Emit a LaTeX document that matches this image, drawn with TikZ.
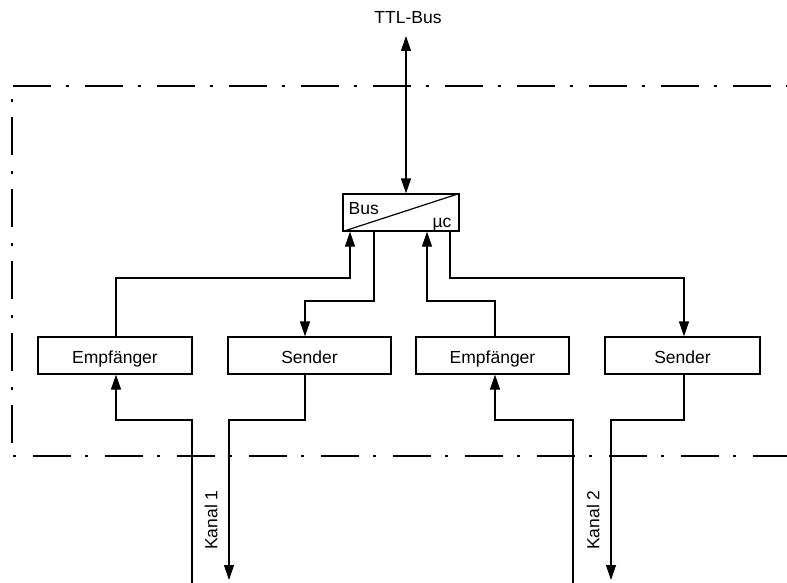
\documentclass[tikz,border=0pt]{standalone}
\usepackage{fontspec}
\setmainfont{Liberation Sans}
\usetikzlibrary{arrows.meta}
\begin{document}
\begin{tikzpicture}[x=1pt,y=-1pt,
  line width=1.2pt,
  tip/.style={-{Triangle[length=15pt,width=10pt]}},
  dtip/.style={{Triangle[length=15pt,width=10pt]}-{Triangle[length=15pt,width=10pt]}},
  blk/.style={draw, line width=1.2pt, minimum width=154pt, minimum height=37pt, inner sep=0pt, font=\fontsize{17.5}{19}\selectfont, text height=15pt, text depth=0pt},
  lbl/.style={font=\fontsize{17.5}{19}\selectfont, inner sep=0pt},
  border/.style={line width=1.2pt, dash pattern=on 38pt off 15pt on 3pt off 16pt},
  borderb/.style={line width=1.2pt, dash pattern=on 3pt off 17pt on 38pt off 14pt}
]
\useasboundingbox (0,0) rectangle (787,583);
% frame
\coordinate (ftl) at (13,86);
\coordinate (ftr) at (787,86);
\coordinate (fbl) at (13,456);
\coordinate (fbr) at (787,456);
\coordinate (fl1) at (12,443);
\coordinate (fl2) at (12,99);
\draw[border] (ftl) -- (ftr);
\draw[borderb] (fbl) -- (fbr);
\draw[border] (fl1) -- (fl2);
% bus converter
\node[draw, minimum width=116pt, minimum height=37pt, inner sep=0pt] (bus) at (401,212.5) {};
\draw[line width=1.2pt] (bus.south west) -- (bus.north east);
\node[lbl, anchor=base west] (buslbl) at (348,214) {Bus};
\node[lbl, anchor=base east] (mulbl) at (452,227) {µc};
% TTL bus
\node[lbl, anchor=base] (ttl) at (408,24) {TTL-Bus};
\coordinate (ttltip) at (406,36);
\draw[dtip] (ttltip) -- (406,0 |- bus.north);
% blocks
\node[blk] (e1) at (115,355.5) {Empfänger};
\node[blk, minimum width=163pt] (s1) at (309.5,355.5) {Sender};
\node[blk, minimum width=153pt] (e2) at (492.5,355.5) {Empfänger};
\node[blk, minimum width=155pt] (s2) at (682.5,355.5) {Sender};
% upper connections
\draw[tip] (116,0 |- e1.north) |- (350,278) -- (350,0 |- bus.south);
\draw[tip] (374,0 |- bus.south) |- (305,301) -- (305,0 |- s1.north);
\draw[tip] (495,0 |- e2.north) |- (427,301) -- (427,0 |- bus.south);
\draw[tip] (450,0 |- bus.south) |- (684,278) -- (684,0 |- s2.north);
% channels
\coordinate (k1in) at (192,583);
\coordinate (k1out) at (229,580);
\coordinate (k2in) at (573,583);
\coordinate (k2out) at (611,580);
\draw[tip] (k1in) |- (116,420) -- (116,0 |- e1.south);
\draw[tip] (305,0 |- s1.south) |- (229,420) -- (k1out);
\draw[tip] (k2in) |- (495,420) -- (495,0 |- e2.south);
\draw[tip] (684,0 |- s2.south) |- (611,420) -- (k2out);
\node[lbl, rotate=90] (k1) at (211,520) {Kanal 1};
\node[lbl, rotate=90] (k2) at (593,520) {Kanal 2};
\end{tikzpicture}
\end{document}
